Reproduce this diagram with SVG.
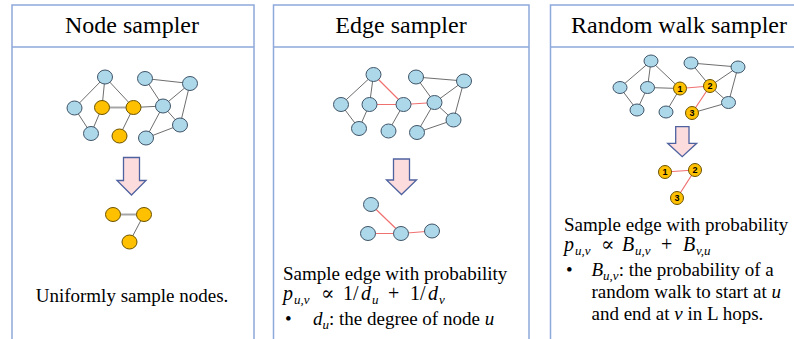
<svg xmlns="http://www.w3.org/2000/svg" width="794" height="339" viewBox="0 0 794 339">
<style>
.panel{fill:none;stroke:#8EA9DB;stroke-width:1.5}
.b{fill:#ADD8EA;stroke:#3F5468;stroke-width:1}
.o{fill:#FFC000;stroke:#6B5200;stroke-width:1}
.e{stroke:#6E6E6E;stroke-width:1;fill:none}
.eg{stroke:#A6A6A6;stroke-width:2;fill:none}
.r{stroke:#F07070;stroke-width:1.2;fill:none}
.title{font-family:"Liberation Serif",serif;font-size:24px;text-anchor:middle;fill:#000}
.txt{font-family:"Liberation Serif",serif;font-size:19px;fill:#000}
.m{font-family:"Liberation Serif","DejaVu Serif",serif;font-size:20px;fill:#000}
.i{font-style:italic}
.s{font-style:italic;font-size:13px}
.num{font-family:"Liberation Sans",sans-serif;font-size:9px;font-weight:bold;text-anchor:middle;fill:#000}
.arrow{fill:#FCDCDC;stroke:#4F62A0;stroke-width:1.3}
</style>
<rect width="794" height="339" fill="#fff"/>
<g id="panels">
<path class="panel" d="M12,345 V5 H254 V345 M12,47 H254"/>
<path class="panel" d="M273.5,345 V5 H529 V345 M273.5,47 H529"/>
<path class="panel" d="M550.5,345 V5 H800 M550.5,47 H800"/>
</g>
<g id="titles">
<text class="title" x="132" y="33">Node sampler</text>
<text class="title" x="401" y="33">Edge sampler</text>
<text class="title" x="679" y="33">Random walk sampler</text>
</g>
<g id="connectors">
<path class="e" d="M105,77 L74.5,108 M105,77 L102,107.5 M105,77 L133.5,107.5 M74.5,108 L91,133.5 M91,133.5 L102,107.5 M133.5,107.5 L119.5,136 M133.5,107.5 L163,106 M145,78.5 L163,106 M145,78.5 L190,83.5 M190,83.5 L163,106 M190,83.5 L180,125 M163,106 L180,125 M163,106 L146,138 M146,138 L180,125"/>
<path class="eg" d="M102,107.5 L133.5,107.5"/>
<path class="eg" d="M113,214.5 L144,214.5"/>
<path class="e" d="M144,214.5 L129.5,242"/>
<path class="e" d="M373.5,74.5 L341,104.5 M373.5,74.5 L369.5,104.5 M341,104.5 L359,128.5 M359,128.5 L369.5,104.5 M403.5,104.5 L388.5,131 M416,77 L434.5,102.5 M416,77 L464,81 M464,81 L434.5,102.5 M464,81 L453.5,120 M434.5,102.5 L453.5,120 M434.5,102.5 L417,132.5 M417,132.5 L453.5,120"/>
<path class="r" d="M373.5,74.5 L403.5,104.5 M369.5,104.5 L403.5,104.5 M403.5,104.5 L434.5,102.5"/>
<path class="r" d="M371,204.5 L401,233.5 M368,233.5 L401,233.5 M401,233.5 L432,231"/>
<path class="e" d="M651,61 L620,87.5 M651,61 L647.5,87.5 M651,61 L680,88.5 M647.5,87.5 L680,88.5 M620,87.5 L637,110 M637,110 L647.5,87.5 M680,88.5 L666,112 M691,63 L710,86 M691,63 L738,67 M738,67 L710,86 M738,67 L728.5,102.5 M710,86 L728.5,102.5 M692,113 L728.5,102.5"/>
<path class="r" d="M680,88.5 L710,86 M710,86 L692,113"/>
<path class="r" d="M665,172 L695,170 M695,170 L677,198"/>
</g>
<g id="arrows">
<path class="arrow" d="M123.5,157.5 H139.5 V180.5 H146 L131.5,195 L117,180.5 H123.5 Z"/>
<path class="arrow" d="M393.5,159 H409.5 V180 H416.5 L401.5,194.5 L386.5,180 H393.5 Z"/>
<path class="arrow" d="M675.7,126.7 H689 V143.3 H696.7 L682.2,156.7 L667.7,143.3 H675.7 Z"/>
</g>
<g id="p1-nodes">
<g id="n1a"><ellipse class="b" cx="105" cy="77" rx="7.5" ry="7"/></g>
<g id="n1b"><ellipse class="b" cx="74.5" cy="108" rx="7.5" ry="7"/></g>
<g id="n1c"><ellipse class="o" cx="102" cy="107.5" rx="7.5" ry="7"/></g>
<g id="n1d"><ellipse class="o" cx="133.5" cy="107.5" rx="7.5" ry="7"/></g>
<g id="n1e"><ellipse class="b" cx="91" cy="133.5" rx="7.5" ry="7"/></g>
<g id="n1f"><ellipse class="o" cx="119.5" cy="136" rx="7.5" ry="7"/></g>
<g id="n1g"><ellipse class="b" cx="145" cy="78.5" rx="7.5" ry="7"/></g>
<g id="n1h"><ellipse class="b" cx="190" cy="83.5" rx="7.5" ry="7"/></g>
<g id="n1i"><ellipse class="b" cx="163" cy="106" rx="7.5" ry="7"/></g>
<g id="n1j"><ellipse class="b" cx="180" cy="125" rx="7.5" ry="7"/></g>
<g id="n1k"><ellipse class="b" cx="146" cy="138" rx="7.5" ry="7"/></g>
<g id="r1a"><ellipse class="o" cx="113" cy="214.5" rx="7.5" ry="7"/></g>
<g id="r1b"><ellipse class="o" cx="144" cy="214.5" rx="7.5" ry="7"/></g>
<g id="r1c"><ellipse class="o" cx="129.5" cy="242" rx="7.5" ry="7"/></g>
</g>
<g id="p2-nodes">
<g id="n2a"><ellipse class="b" cx="373.5" cy="74.5" rx="7.5" ry="7"/></g>
<g id="n2b"><ellipse class="b" cx="341" cy="104.5" rx="7.5" ry="7"/></g>
<g id="n2c"><ellipse class="b" cx="369.5" cy="104.5" rx="7.5" ry="7"/></g>
<g id="n2d"><ellipse class="b" cx="403.5" cy="104.5" rx="7.5" ry="7"/></g>
<g id="n2e"><ellipse class="b" cx="359" cy="128.5" rx="7.5" ry="7"/></g>
<g id="n2f"><ellipse class="b" cx="388.5" cy="131" rx="7.5" ry="7"/></g>
<g id="n2g"><ellipse class="b" cx="416" cy="77" rx="7.5" ry="7"/></g>
<g id="n2h"><ellipse class="b" cx="464" cy="81" rx="7.5" ry="7"/></g>
<g id="n2i"><ellipse class="b" cx="434.5" cy="102.5" rx="7.5" ry="7"/></g>
<g id="n2j"><ellipse class="b" cx="453.5" cy="120" rx="7.5" ry="7"/></g>
<g id="n2k"><ellipse class="b" cx="417" cy="132.5" rx="7.5" ry="7"/></g>
<g id="r2a"><ellipse class="b" cx="371" cy="204.5" rx="7.5" ry="7"/></g>
<g id="r2b"><ellipse class="b" cx="368" cy="233.5" rx="7.5" ry="7"/></g>
<g id="r2c"><ellipse class="b" cx="401" cy="233.5" rx="7.5" ry="7"/></g>
<g id="r2d"><ellipse class="b" cx="432" cy="231" rx="7.5" ry="7"/></g>
</g>
<g id="p3-nodes">
<g id="n3a"><ellipse class="b" cx="651" cy="61" rx="7" ry="6"/></g>
<g id="n3b"><ellipse class="b" cx="620" cy="87.5" rx="7" ry="6"/></g>
<g id="n3c"><ellipse class="b" cx="647.5" cy="87.5" rx="7" ry="6"/></g>
<g id="n3e"><ellipse class="b" cx="637" cy="110" rx="7" ry="6"/></g>
<g id="n3f"><ellipse class="b" cx="666" cy="112" rx="7" ry="6"/></g>
<g id="n3g"><ellipse class="b" cx="691" cy="63" rx="7" ry="6"/></g>
<g id="n3h"><ellipse class="b" cx="738" cy="67" rx="7" ry="6"/></g>
<g id="n3j"><ellipse class="b" cx="728.5" cy="102.5" rx="7" ry="6"/></g>
<g id="n3-1"><ellipse class="o" cx="680" cy="88.5" rx="6.5" ry="6.5"/><text class="num" x="680" y="91.8">1</text></g>
<g id="n3-2"><ellipse class="o" cx="710" cy="86" rx="6.5" ry="6.5"/><text class="num" x="710" y="89.3">2</text></g>
<g id="n3-3"><ellipse class="o" cx="692" cy="113" rx="6.5" ry="6.5"/><text class="num" x="692" y="116.3">3</text></g>
<g id="r3-1"><ellipse class="o" cx="665" cy="172" rx="6.5" ry="6.5"/><text class="num" x="665" y="175.3">1</text></g>
<g id="r3-2"><ellipse class="o" cx="695" cy="170" rx="6.5" ry="6.5"/><text class="num" x="695" y="173.3">2</text></g>
<g id="r3-3"><ellipse class="o" cx="677" cy="198" rx="6.5" ry="6.5"/><text class="num" x="677" y="201.3">3</text></g>
</g>
<g id="captions">
<text class="txt" x="132" y="302" text-anchor="middle">Uniformly sample nodes.</text>
<text class="txt" x="283" y="280">Sample edge with probability</text>
<text class="m" y="300"><tspan class="i" x="283">p</tspan><tspan class="s" x="294" dy="3.5">u,v</tspan><tspan x="321" dy="-3.5">∝</tspan><tspan x="343">1/</tspan><tspan class="i" x="361">d</tspan><tspan class="s" x="372" dy="3.5">u</tspan><tspan x="388" dy="-3.5">+</tspan><tspan x="410">1/</tspan><tspan class="i" x="428">d</tspan><tspan class="s" x="439" dy="3.5">v</tspan></text>
<text class="txt" x="285" y="325">•</text>
<text class="txt" x="313" y="325"><tspan class="i">d</tspan><tspan class="s" dy="3.5">u</tspan><tspan dy="-3.5">: the degree of node </tspan><tspan class="i">u</tspan></text>
<text class="txt" x="564" y="231">Sample edge with probability</text>
<text class="m" y="251"><tspan class="i" x="564">p</tspan><tspan class="s" x="575" dy="3.5">u,v</tspan><tspan x="601" dy="-3.5">∝</tspan><tspan class="i" x="622">B</tspan><tspan class="s" x="635" dy="3.5">u,v</tspan><tspan x="661" dy="-3.5">+</tspan><tspan class="i" x="683">B</tspan><tspan class="s" x="696" dy="3.5">v,u</tspan></text>
<text class="txt" x="566" y="276">•</text>
<text class="txt" x="591.5" y="276"><tspan class="i">B</tspan><tspan class="s" dy="3.5">u,v</tspan><tspan dy="-3.5">: the probability of a</tspan></text>
<text class="txt" x="591.5" y="298">random walk to start at <tspan class="i">u</tspan></text>
<text class="txt" x="591.5" y="320">and end at <tspan class="i">v</tspan> in L hops.</text>
</g>
</svg>
